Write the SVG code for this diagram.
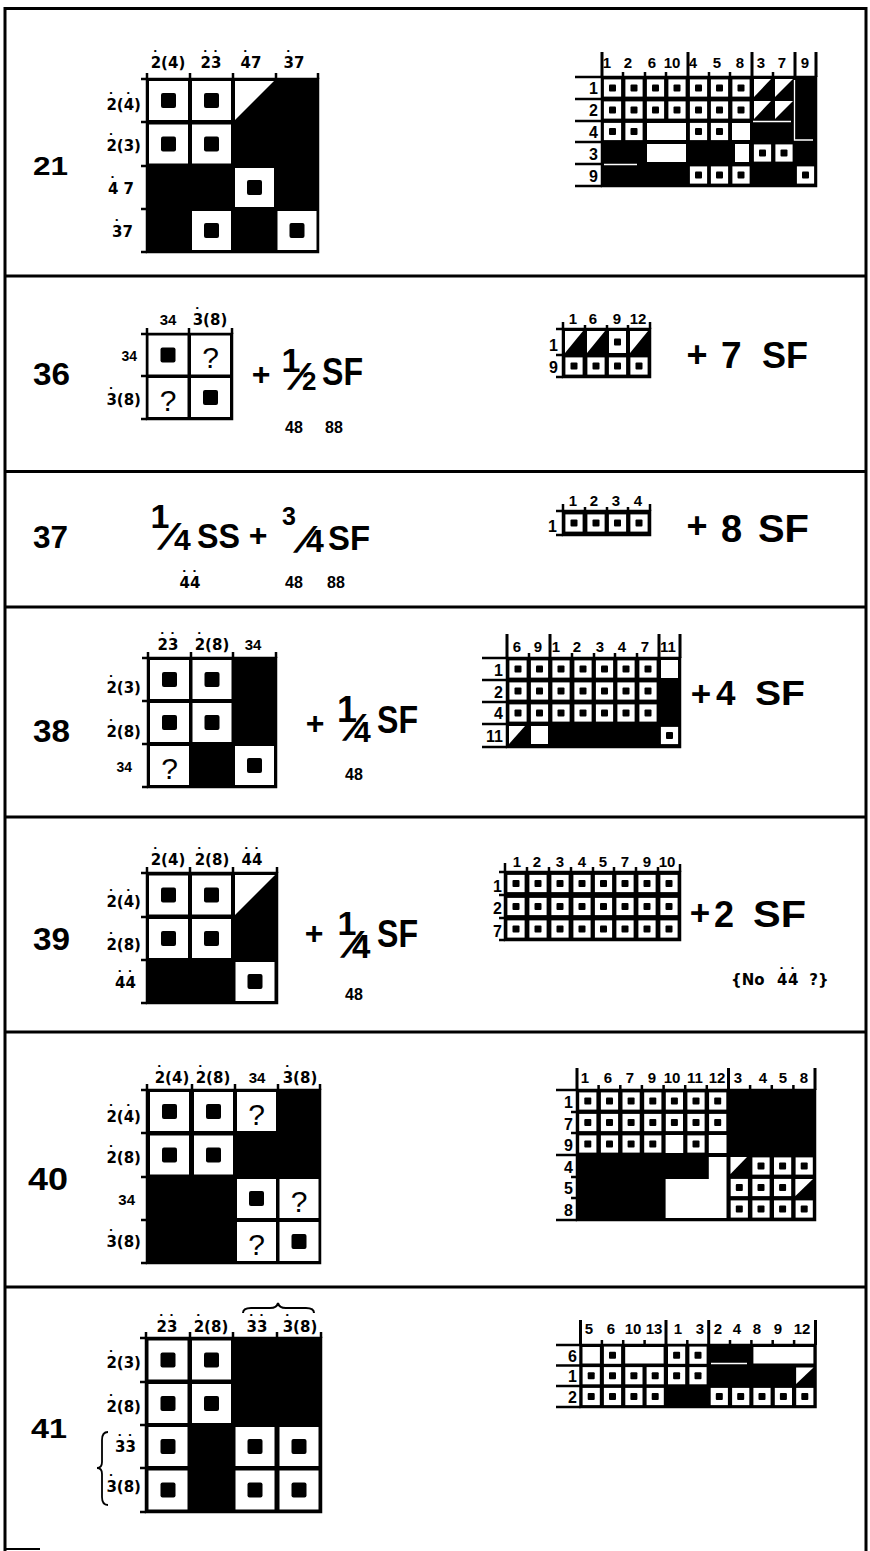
<svg xmlns="http://www.w3.org/2000/svg" width="870" height="1551" viewBox="0 0 870 1551">
<style>
.f{font-family:"Liberation Sans",Arial,Helvetica,sans-serif;font-weight:bold;fill:#000}
.n{font-size:31px}
.l{font-family:"DejaVu Sans",Verdana,sans-serif;font-size:15px}
.r{font-size:15px}
.rl{font-size:16px}
.q{font-family:"Liberation Sans",Arial,sans-serif;font-size:30px;fill:#000;text-anchor:middle}
.m{text-anchor:middle}
.e{text-anchor:end}
.ln{stroke:#000;stroke-width:3;fill:none}
.tk{stroke:#000;stroke-width:2.5;fill:none}
.gl{stroke:#000;stroke-width:3;fill:none}
.ws{stroke:#fff;stroke-width:1.3;fill:none}
.bk{fill:#000}
.wh{fill:#fff}
.bx{fill:#000;stroke:#000;stroke-width:2.5}
</style>
<defs>
<g id="W"><rect x="-19.5" y="-19.5" width="39" height="39" fill="#fff"/><rect x="-7.5" y="-7.5" width="15" height="15" rx="2" fill="#000"/></g>
<rect id="Q" x="-19.5" y="-19.5" width="39" height="39" fill="#fff"/>
<g id="d"><rect x="-8.6" y="-8.6" width="17.2" height="17.2" fill="#fff"/><rect x="-3.5" y="-3.5" width="7" height="7" rx="1" fill="#000"/></g>
</defs>
<rect x="0" y="0" width="870" height="1551" fill="#fff"/>

<g id="frame" class="ln">
<line x1="5" y1="7" x2="5" y2="1551"/>
<line x1="866" y1="7" x2="866" y2="1551"/>
<line x1="4" y1="8.5" x2="867" y2="8.5"/>
<line x1="4" y1="276" x2="867" y2="276"/>
<line x1="4" y1="471.5" x2="867" y2="471.5"/>
<line x1="4" y1="607" x2="867" y2="607"/>
<line x1="4" y1="817" x2="867" y2="817"/>
<line x1="4" y1="1032" x2="867" y2="1032"/>
<line x1="4" y1="1287" x2="867" y2="1287"/>
<line x1="4" y1="1549" x2="40" y2="1549" stroke-width="2"/>
</g>

<!-- ===== 21 ===== -->
<g id="row21">
<text class="f" x="33" y="175" style="font-size:26px" textLength="35" lengthAdjust="spacingAndGlyphs">21</text>
<g id="m21a">
<rect class="bx" x="147" y="79" width="171" height="173"/>
<use href="#W" x="168.5" y="100.5"/><use href="#W" x="211.5" y="100.5"/>
<polygon class="wh" points="235,81 274,81 235,120"/>
<use href="#W" x="168.5" y="144"/><use href="#W" x="211.5" y="144"/>
<use href="#W" x="254.5" y="187.5"/>
<use href="#W" x="211.5" y="230.5"/><use href="#W" x="297" y="230.5"/>
<path class="tk" d="M141 79H147M141 122H147M141 166H147M141 209H147M141 252H147M147 73V79M190 73V79M233 73V79M276 73V79M318 73V79"/>
<text class="f l" y="68"><tspan x="150.7">2</tspan><tspan x="151.5" dy="-5">&#729;</tspan><tspan x="161.1" dy="5">(4)</tspan></text>
<text class="f l" y="68"><tspan x="200.6">2</tspan><tspan x="201.4" dy="-5">&#729;</tspan><tspan x="211" dy="5">3</tspan><tspan x="211.8" dy="-5">&#729;</tspan></text>
<text class="f l" y="68"><tspan x="240.6">4</tspan><tspan x="241.4" dy="-5">&#729;</tspan><tspan x="251" dy="5">7</tspan></text>
<text class="f l" y="68"><tspan x="283.6">3</tspan><tspan x="284.4" dy="-5">&#729;</tspan><tspan x="294" dy="5">7</tspan></text>
<text class="f l" y="110"><tspan x="106.4">2</tspan><tspan x="107.2" dy="-5">&#729;</tspan><tspan x="116.8" dy="5">(4</tspan><tspan x="124.5" dy="-5">&#729;</tspan><tspan x="134.1" dy="5">)</tspan></text>
<text class="f l" y="151"><tspan x="106.4">2</tspan><tspan x="107.2" dy="-5">&#729;</tspan><tspan x="116.8" dy="5">(3)</tspan></text>
<text class="f l" y="194"><tspan x="107.9">4</tspan><tspan x="108.7" dy="-5">&#729;</tspan><tspan x="123.6" dy="5">7</tspan></text>
<text class="f l" y="237"><tspan x="112.1">3</tspan><tspan x="112.9" dy="-5">&#729;</tspan><tspan x="122.5" dy="5">7</tspan></text>
</g>
<g id="m21b">
<rect class="bx" x="602" y="77" width="214" height="109"/>
<use href="#d" x="612.5" y="88"/><use href="#d" x="634" y="88"/><use href="#d" x="655.5" y="88"/><use href="#d" x="677" y="88"/><use href="#d" x="698.5" y="88"/><use href="#d" x="719.5" y="88"/><use href="#d" x="741" y="88"/>
<polygon class="wh" points="754,79 771,79 754,97"/><polygon class="wh" points="775,79 793,79 775,97"/>
<use href="#d" x="612.5" y="110"/><use href="#d" x="634" y="110"/><use href="#d" x="655.5" y="110"/><use href="#d" x="677" y="110"/><use href="#d" x="698.5" y="110"/><use href="#d" x="719.5" y="110"/><use href="#d" x="741" y="110"/>
<polygon class="wh" points="754,101 771,101 754,119"/><polygon class="wh" points="775,101 793,101 775,119"/>
<use href="#d" x="612.5" y="131.5"/><use href="#d" x="634" y="131.5"/>
<rect class="wh" x="647" y="123" width="39" height="17"/>
<use href="#d" x="698.5" y="131.5"/><use href="#d" x="719.5" y="131.5"/>
<rect class="wh" x="732" y="123" width="18" height="17"/>
<rect class="wh" x="647" y="144" width="39" height="18"/>
<rect class="wh" x="735" y="144" width="14" height="18"/>
<use href="#d" x="762.5" y="153"/><use href="#d" x="784" y="153"/>
<use href="#d" x="698.5" y="175"/><use href="#d" x="719.5" y="175"/><use href="#d" x="741" y="175"/><use href="#d" x="805.5" y="175"/>
<path class="ws" d="M604 164.5H637M753 121.5H791M794.5 80V140H813"/>
<path class="tk" d="M575 77H602M575 99H602M575 121H602M575 142H602M575 164H602M575 186H602M623 72V77M645 72V77M666 72V77M709 72V77M730 72V77M773 72V77"/>
<path class="gl" d="M602 52V77M688 52V77M752 52V77M795 52V77M816 52V77"/>
<text class="f r m" x="607" y="68">1</text>
<text class="f r m" x="628" y="68">2</text>
<text class="f r m" x="652" y="68">6</text>
<text class="f r m" x="672" y="68">10</text>
<text class="f r m" x="693" y="68">4</text>
<text class="f r m" x="717" y="68">5</text>
<text class="f r m" x="740" y="68">8</text>
<text class="f r m" x="761" y="68">3</text>
<text class="f r m" x="782" y="68">7</text>
<text class="f r m" x="805" y="68">9</text>
<text class="f rl e" x="598" y="94">1</text>
<text class="f rl e" x="598" y="116">2</text>
<text class="f rl e" x="598" y="138">4</text>
<text class="f rl e" x="598" y="160">3</text>
<text class="f rl e" x="598" y="182">9</text>
</g>
</g>

<!-- ===== 36 ===== -->
<g id="row36">
<text class="f n" x="33" y="385" textLength="37" lengthAdjust="spacingAndGlyphs">36</text>
<g id="m36a">
<rect class="bx" x="147" y="334" width="85" height="85"/>
<use href="#W" x="168" y="355"/>
<use href="#Q" x="210.5" y="355"/><text class="q" x="210.5" y="368">?</text>
<use href="#Q" x="168" y="397.5"/><text class="q" x="168" y="410.5">?</text>
<use href="#W" x="210.5" y="397.5"/>
<path class="tk" d="M141 334H147M141 376H147M141 419H147M147 328V334M189 328V334M232 328V334"/>
<text class="f m" x="168" y="325" style="font-size:15px">34</text>
<text class="f l" y="325"><tspan x="192.7">3</tspan><tspan x="193.5" dy="-5">&#729;</tspan><tspan x="203.1" dy="5">(8)</tspan></text>
<text class="f e" x="137" y="361" style="font-size:14px">34</text>
<text class="f l" y="405"><tspan x="106.4">3</tspan><tspan x="107.2" dy="-5">&#729;</tspan><tspan x="116.8" dy="5">(8)</tspan></text>
</g>
<text class="f m" x="261" y="385" style="font-size:32px">+</text>
<text class="f m" x="291" y="372" style="font-size:34px">1</text>
<text class="f" transform="translate(287,389) skewX(-30)" style="font-size:36px">/</text>
<text class="f" x="302" y="390" style="font-size:26px">2</text>
<text class="f" x="322" y="385" style="font-size:38px" textLength="41" lengthAdjust="spacingAndGlyphs">SF</text>
<text class="f" x="285" y="433" style="font-size:16px">48</text>
<text class="f" x="325" y="433" style="font-size:16px">88</text>
<g id="m36b">
<rect class="bx" x="563" y="329" width="87" height="48"/>
<polygon class="wh" points="565,331 583,331 565,353"/>
<polygon class="wh" points="587,331 605,331 587,353"/>
<rect class="wh" x="609" y="331" width="17" height="22"/><rect class="bk" x="614" y="338.5" width="7" height="7" rx="1"/>
<polygon class="wh" points="630,331 648,331 630,353"/>
<use href="#d" x="574" y="366"/><use href="#d" x="596" y="366"/><use href="#d" x="617.5" y="366"/><use href="#d" x="639" y="366"/>
<path class="tk" d="M563 322V329M585 325V329M607 325V329M628 325V329M650 322V329M556 329H563M556 355H563M556 377H563"/>
<text class="f r m" x="573" y="324">1</text>
<text class="f r m" x="593" y="324">6</text>
<text class="f r m" x="617" y="324">9</text>
<text class="f r m" x="638" y="324">12</text>
<text class="f rl e" x="558" y="351">1</text>
<text class="f rl e" x="558" y="373">9</text>
</g>
<text class="f m" x="697" y="367" style="font-size:36px">+</text>
<text class="f" x="721" y="368" style="font-size:37px">7</text>
<text class="f" x="762" y="368" style="font-size:37px" textLength="46" lengthAdjust="spacingAndGlyphs">SF</text>
</g>

<!-- ===== 37 ===== -->
<g id="row37">
<text class="f n" x="33" y="548" textLength="35" lengthAdjust="spacingAndGlyphs">37</text>
<text class="f m" x="160" y="528" style="font-size:34px">1</text>
<text class="f" transform="translate(157,549) skewX(-30)" style="font-size:36px">/</text>
<text class="f" x="174" y="550" style="font-size:30px">4</text>
<text class="f" x="197" y="548" style="font-size:35px" textLength="43" lengthAdjust="spacingAndGlyphs">SS</text>
<text class="f m" x="258" y="546" style="font-size:32px">+</text>
<text class="f" x="282" y="525" style="font-size:25px">3</text>
<text class="f" transform="translate(293,552) skewX(-30)" style="font-size:36px">/</text>
<text class="f" x="306" y="552" style="font-size:32px">4</text>
<text class="f" x="328" y="550" style="font-size:35px" textLength="42" lengthAdjust="spacingAndGlyphs">SF</text>
<text class="f l" y="588"><tspan x="179.6">4</tspan><tspan x="180.4" dy="-5">&#729;</tspan><tspan x="190" dy="5">4</tspan><tspan x="190.8" dy="-5">&#729;</tspan></text>
<text class="f" x="285" y="588" style="font-size:16px">48</text>
<text class="f" x="327" y="588" style="font-size:16px">88</text>
<g id="m37b">
<rect class="bx" x="563" y="511" width="87" height="24"/>
<use href="#d" x="574" y="523"/><use href="#d" x="596" y="523"/><use href="#d" x="617.5" y="523"/><use href="#d" x="639" y="523"/>
<path class="tk" d="M563 504V511M585 507V511M607 507V511M628 507V511M650 504V511M556 511H563M556 535H563"/>
<text class="f r m" x="573" y="506">1</text>
<text class="f r m" x="594" y="506">2</text>
<text class="f r m" x="616" y="506">3</text>
<text class="f r m" x="638" y="506">4</text>
<text class="f rl e" x="557" y="532">1</text>
</g>
<text class="f m" x="697" y="538" style="font-size:36px">+</text>
<text class="f" x="721" y="542" style="font-size:38px">8</text>
<text class="f" x="758" y="542" style="font-size:38px" textLength="51" lengthAdjust="spacingAndGlyphs">SF</text>
</g>

<!-- ===== 38 ===== -->
<g id="row38">
<text class="f n" x="33" y="742" textLength="37" lengthAdjust="spacingAndGlyphs">38</text>
<g id="m38a">
<rect class="bx" x="148" y="658" width="128" height="129"/>
<use href="#W" x="169.5" y="679.5"/><use href="#W" x="212" y="679.5"/>
<use href="#W" x="169.5" y="722.5"/><use href="#W" x="212" y="722.5"/>
<use href="#Q" x="169.5" y="765.5"/><text class="q" x="169.5" y="778.5">?</text>
<use href="#W" x="254.5" y="765.5"/>
<path class="tk" d="M142 658H148M142 701H148M142 744H148M142 787H148M148 652V658M191 652V658M233 652V658M276 652V658"/>
<text class="f l" y="650"><tspan x="157.6">2</tspan><tspan x="158.4" dy="-5">&#729;</tspan><tspan x="168" dy="5">3</tspan><tspan x="168.8" dy="-5">&#729;</tspan></text>
<text class="f l" y="650"><tspan x="194.7">2</tspan><tspan x="195.5" dy="-5">&#729;</tspan><tspan x="205.1" dy="5">(8)</tspan></text>
<text class="f m" x="253" y="650" style="font-size:15px">34</text>
<text class="f l" y="693"><tspan x="106.4">2</tspan><tspan x="107.2" dy="-5">&#729;</tspan><tspan x="116.8" dy="5">(3)</tspan></text>
<text class="f l" y="737"><tspan x="106.4">2</tspan><tspan x="107.2" dy="-5">&#729;</tspan><tspan x="116.8" dy="5">(8)</tspan></text>
<text class="f e" x="132" y="772" style="font-size:14px">34</text>
</g>
<text class="f m" x="315" y="734" style="font-size:32px">+</text>
<text class="f m" x="347" y="722" style="font-size:36px">1</text>
<text class="f" transform="translate(342,740) skewX(-30)" style="font-size:36px">/</text>
<text class="f" x="354" y="742" style="font-size:30px">4</text>
<text class="f" x="377" y="733" style="font-size:38px" textLength="41" lengthAdjust="spacingAndGlyphs">SF</text>
<text class="f" x="345" y="780" style="font-size:16px">48</text>
<g id="m38b">
<rect class="bx" x="507" y="658" width="173" height="89"/>
<use href="#d" x="518" y="669"/><use href="#d" x="539.5" y="669"/><use href="#d" x="561" y="669"/><use href="#d" x="583" y="669"/><use href="#d" x="604.5" y="669"/><use href="#d" x="626" y="669"/><use href="#d" x="648" y="669"/>
<rect class="wh" x="661" y="660" width="17" height="18"/>
<use href="#d" x="518" y="691"/><use href="#d" x="539.5" y="691"/><use href="#d" x="561" y="691"/><use href="#d" x="583" y="691"/><use href="#d" x="604.5" y="691"/><use href="#d" x="626" y="691"/><use href="#d" x="648" y="691"/>
<use href="#d" x="518" y="713"/><use href="#d" x="539.5" y="713"/><use href="#d" x="561" y="713"/><use href="#d" x="583" y="713"/><use href="#d" x="604.5" y="713"/><use href="#d" x="626" y="713"/><use href="#d" x="648" y="713"/>
<polygon class="wh" points="509,726 525,726 509,744"/>
<rect class="wh" x="531" y="726" width="17" height="18"/>
<use href="#d" x="669.5" y="735.5"/>
<path class="gl" d="M507 634V658M550 634V658M659 634V658M680 634V658"/>
<path class="tk" d="M529 653V658M572 653V658M594 653V658M615 653V658M637 653V658M482 658H507M482 680H507M482 702H507M482 724H507M482 747H507"/>
<text class="f r m" x="517" y="652">6</text>
<text class="f r m" x="538" y="652">9</text>
<text class="f r m" x="556" y="652">1</text>
<text class="f r m" x="577" y="652">2</text>
<text class="f r m" x="600" y="652">3</text>
<text class="f r m" x="622" y="652">4</text>
<text class="f r m" x="645" y="652">7</text>
<text class="f r m" x="668" y="652">11</text>
<text class="f rl e" x="503" y="676">1</text>
<text class="f rl e" x="503" y="698">2</text>
<text class="f rl e" x="503" y="719">4</text>
<text class="f rl e" x="503" y="742">11</text>
</g>
<text class="f m" x="701" y="706" style="font-size:35px">+</text>
<text class="f" x="716" y="705" style="font-size:35px">4</text>
<text class="f" x="755" y="705" style="font-size:35px" textLength="50" lengthAdjust="spacingAndGlyphs">SF</text>
</g>

<!-- ===== 39 ===== -->
<g id="row39">
<text class="f n" x="33" y="950" textLength="37" lengthAdjust="spacingAndGlyphs">39</text>
<g id="m39a">
<rect class="bx" x="147" y="873" width="130" height="130"/>
<use href="#W" x="168.5" y="895"/><use href="#W" x="211.5" y="895"/>
<polygon class="wh" points="235,875 275,875 235,915"/>
<use href="#W" x="168.5" y="938.5"/><use href="#W" x="211.5" y="938.5"/>
<use href="#W" x="255" y="981.5"/>
<path class="tk" d="M141 873H147M141 917H147M141 960H147M141 1003H147M147 867V873M190 867V873M233 867V873M277 867V873"/>
<text class="f l" y="865"><tspan x="150.7">2</tspan><tspan x="151.5" dy="-5">&#729;</tspan><tspan x="161.1" dy="5">(4)</tspan></text>
<text class="f l" y="865"><tspan x="194.7">2</tspan><tspan x="195.5" dy="-5">&#729;</tspan><tspan x="205.1" dy="5">(8)</tspan></text>
<text class="f l" y="865"><tspan x="241.6">4</tspan><tspan x="242.4" dy="-5">&#729;</tspan><tspan x="252" dy="5">4</tspan><tspan x="252.8" dy="-5">&#729;</tspan></text>
<text class="f l" y="907"><tspan x="106.4">2</tspan><tspan x="107.2" dy="-5">&#729;</tspan><tspan x="116.8" dy="5">(4</tspan><tspan x="124.5" dy="-5">&#729;</tspan><tspan x="134.1" dy="5">)</tspan></text>
<text class="f l" y="950"><tspan x="106.4">2</tspan><tspan x="107.2" dy="-5">&#729;</tspan><tspan x="116.8" dy="5">(8)</tspan></text>
<text class="f l" y="988"><tspan x="115.1">4</tspan><tspan x="115.9" dy="-5">&#729;</tspan><tspan x="125.5" dy="5">4</tspan><tspan x="126.3" dy="-5">&#729;</tspan></text>
</g>
<text class="f m" x="314" y="944" style="font-size:32px">+</text>
<text class="f m" x="347" y="935" style="font-size:34px">1</text>
<text class="f" transform="translate(340,957) skewX(-30)" style="font-size:36px">/</text>
<text class="f" x="352" y="958" style="font-size:33px">4</text>
<text class="f" x="377" y="947" style="font-size:38px" textLength="41" lengthAdjust="spacingAndGlyphs">SF</text>
<text class="f" x="345" y="1000" style="font-size:16px">48</text>
<g id="m39b">
<rect class="bx" x="505" y="872" width="175" height="68"/>
<use href="#d" x="516" y="883.5"/><use href="#d" x="538" y="883.5"/><use href="#d" x="560" y="883.5"/><use href="#d" x="582" y="883.5"/><use href="#d" x="603.5" y="883.5"/><use href="#d" x="625" y="883.5"/><use href="#d" x="647" y="883.5"/><use href="#d" x="669" y="883.5"/>
<use href="#d" x="516" y="906.5"/><use href="#d" x="538" y="906.5"/><use href="#d" x="560" y="906.5"/><use href="#d" x="582" y="906.5"/><use href="#d" x="603.5" y="906.5"/><use href="#d" x="625" y="906.5"/><use href="#d" x="647" y="906.5"/><use href="#d" x="669" y="906.5"/>
<use href="#d" x="516" y="929"/><use href="#d" x="538" y="929"/><use href="#d" x="560" y="929"/><use href="#d" x="582" y="929"/><use href="#d" x="603.5" y="929"/><use href="#d" x="625" y="929"/><use href="#d" x="647" y="929"/><use href="#d" x="669" y="929"/>
<path class="tk" d="M505 863V872M527 867V872M549 867V872M571 867V872M593 867V872M614 867V872M636 867V872M658 867V872M680 864V872M499 872H505M499 895H505M499 918H505M499 940H505"/>
<text class="f r m" x="517" y="867">1</text>
<text class="f r m" x="537" y="867">2</text>
<text class="f r m" x="560" y="867">3</text>
<text class="f r m" x="582" y="867">4</text>
<text class="f r m" x="603" y="867">5</text>
<text class="f r m" x="625" y="867">7</text>
<text class="f r m" x="647" y="867">9</text>
<text class="f r m" x="667" y="867">10</text>
<text class="f rl e" x="502" y="892">1</text>
<text class="f rl e" x="502" y="914">2</text>
<text class="f rl e" x="502" y="937">7</text>
</g>
<text class="f m" x="700" y="925" style="font-size:35px">+</text>
<text class="f" x="714" y="927" style="font-size:36px">2</text>
<text class="f" x="753" y="927" style="font-size:36px" textLength="53" lengthAdjust="spacingAndGlyphs">SF</text>
<text class="f l" y="985"><tspan x="731">{No </tspan><tspan x="777">4</tspan><tspan x="777.8" dy="-5">&#729;</tspan><tspan x="788" dy="5">4</tspan><tspan x="788.8" dy="-5">&#729;</tspan><tspan x="804" dy="5"> ?}</tspan></text>
</g>

<!-- ===== 40 ===== -->
<g id="row40">
<text class="f n" x="28" y="1190" textLength="40" lengthAdjust="spacingAndGlyphs">40</text>
<g id="m40a">
<rect class="bx" x="147" y="1090" width="173" height="173"/>
<use href="#W" x="169.5" y="1111.5"/><use href="#W" x="213.5" y="1111.5"/>
<use href="#Q" x="256.5" y="1111.5"/><text class="q" x="256.5" y="1124.5">?</text>
<use href="#W" x="169.5" y="1155"/><use href="#W" x="213.5" y="1155"/>
<use href="#W" x="256.5" y="1198.5"/>
<use href="#Q" x="299" y="1198.5"/><text class="q" x="299" y="1211.5">?</text>
<use href="#Q" x="256.5" y="1241.5"/><text class="q" x="256.5" y="1254.5">?</text>
<use href="#W" x="299" y="1241.5"/>
<path class="tk" d="M141 1090H147M141 1133H147M141 1177H147M141 1220H147M141 1263H147M147 1084V1090M192 1084V1090M235 1084V1090M278 1084V1090M320 1084V1090"/>
<text class="f l" y="1083"><tspan x="154.7">2</tspan><tspan x="155.5" dy="-5">&#729;</tspan><tspan x="165.1" dy="5">(4)</tspan></text>
<text class="f l" y="1083"><tspan x="195.7">2</tspan><tspan x="196.5" dy="-5">&#729;</tspan><tspan x="206.1" dy="5">(8)</tspan></text>
<text class="f m" x="257" y="1083" style="font-size:15px">34</text>
<text class="f l" y="1083"><tspan x="282.7">3</tspan><tspan x="283.5" dy="-5">&#729;</tspan><tspan x="293.1" dy="5">(8)</tspan></text>
<text class="f l" y="1122"><tspan x="106.4">2</tspan><tspan x="107.2" dy="-5">&#729;</tspan><tspan x="116.8" dy="5">(4</tspan><tspan x="124.5" dy="-5">&#729;</tspan><tspan x="134.1" dy="5">)</tspan></text>
<text class="f l" y="1163"><tspan x="106.4">2</tspan><tspan x="107.2" dy="-5">&#729;</tspan><tspan x="116.8" dy="5">(8)</tspan></text>
<text class="f e" x="135" y="1205" style="font-size:15px">34</text>
<text class="f l" y="1247"><tspan x="106.4">3</tspan><tspan x="107.2" dy="-5">&#729;</tspan><tspan x="116.8" dy="5">(8)</tspan></text>
</g>
<g id="m40b">
<rect class="bx" x="577" y="1090" width="238" height="130"/>
<use href="#d" x="587.8" y="1101"/><use href="#d" x="609.5" y="1101"/><use href="#d" x="631.1" y="1101"/><use href="#d" x="652.8" y="1101"/><use href="#d" x="674.4" y="1101"/><use href="#d" x="696" y="1101"/><use href="#d" x="717.7" y="1101"/>
<use href="#d" x="587.8" y="1122.5"/><use href="#d" x="609.5" y="1122.5"/><use href="#d" x="631.1" y="1122.5"/><use href="#d" x="652.8" y="1122.5"/><use href="#d" x="674.4" y="1122.5"/><use href="#d" x="696" y="1122.5"/><use href="#d" x="717.7" y="1122.5"/>
<use href="#d" x="587.8" y="1144"/><use href="#d" x="609.5" y="1144"/><use href="#d" x="631.1" y="1144"/><use href="#d" x="652.8" y="1144"/>
<rect class="wh" x="665.6" y="1135" width="17.6" height="18"/>
<use href="#d" x="696" y="1144"/>
<rect class="wh" x="708.8" y="1135" width="17.7" height="18"/>
<polygon class="wh" points="708.8,1157 726.5,1157 726.5,1218 665.6,1218 665.6,1179 708.8,1179"/>
<polygon class="wh" points="730.5,1157 747,1157 730.5,1174"/>
<use href="#d" x="761" y="1166"/><use href="#d" x="782.6" y="1166"/><use href="#d" x="804.2" y="1166"/>
<use href="#d" x="739.3" y="1187.5"/><use href="#d" x="761" y="1187.5"/><use href="#d" x="782.6" y="1187.5"/>
<polygon class="wh" points="795.4,1179 813,1179 795.4,1196"/>
<use href="#d" x="739.3" y="1209"/><use href="#d" x="761" y="1209"/><use href="#d" x="782.6" y="1209"/><use href="#d" x="804.2" y="1209"/>
<path class="gl" d="M577 1068V1090M728.5 1068V1090M815 1068V1090"/>
<path class="tk" d="M598.6 1085V1090M620.3 1085V1090M641.9 1085V1090M663.6 1085V1090M685.2 1085V1090M706.8 1085V1090M750.1 1085V1090M771.8 1085V1090M793.4 1085V1090M556 1090H577M556 1155H577M556 1220H577M571 1112H577M571 1133H577M571 1177H577M571 1198H577"/>
<text class="f r m" x="585" y="1083">1</text>
<text class="f r m" x="608" y="1083">6</text>
<text class="f r m" x="630" y="1083">7</text>
<text class="f r m" x="652" y="1083">9</text>
<text class="f r m" x="672" y="1083">10</text>
<text class="f r m" x="695" y="1083">11</text>
<text class="f r m" x="717" y="1083">12</text>
<text class="f r m" x="738" y="1083">3</text>
<text class="f r m" x="763" y="1083">4</text>
<text class="f r m" x="783" y="1083">5</text>
<text class="f r m" x="804" y="1083">8</text>
<text class="f rl e" x="573" y="1108">1</text>
<text class="f rl e" x="573" y="1130">7</text>
<text class="f rl e" x="573" y="1151">9</text>
<text class="f rl e" x="573" y="1173">4</text>
<text class="f rl e" x="573" y="1194">5</text>
<text class="f rl e" x="573" y="1216">8</text>
</g>
</g>

<!-- ===== 41 ===== -->
<g id="row41">
<text class="f" x="31" y="1438" style="font-size:28px" textLength="36" lengthAdjust="spacingAndGlyphs">41</text>
<g id="m41a">
<rect class="bx" x="146" y="1338" width="175" height="174"/>
<use href="#W" x="168" y="1360"/><use href="#W" x="211.5" y="1360"/>
<use href="#W" x="168" y="1403.5"/><use href="#W" x="211.5" y="1403.5"/>
<use href="#W" x="168" y="1446.5"/><use href="#W" x="255" y="1446.5"/><use href="#W" x="299" y="1446.5"/>
<use href="#W" x="168" y="1490"/><use href="#W" x="255" y="1490"/><use href="#W" x="299" y="1490"/>
<path class="tk" d="M140 1338H146M140 1382H146M140 1425H146M140 1468H146M140 1512H146M146 1332V1338M190 1332V1338M233 1332V1338M277 1332V1338M321 1332V1338"/>
<path stroke="#000" stroke-width="2" fill="none" d="M243 1313Q243 1308 251 1308H270Q277 1308 278 1303Q279 1308 286 1308H306Q314 1308 314 1313"/>
<text class="f l" y="1332"><tspan x="156.6">2</tspan><tspan x="157.4" dy="-5">&#729;</tspan><tspan x="167" dy="5">3</tspan><tspan x="167.8" dy="-5">&#729;</tspan></text>
<text class="f l" y="1332"><tspan x="193.7">2</tspan><tspan x="194.5" dy="-5">&#729;</tspan><tspan x="204.1" dy="5">(8)</tspan></text>
<text class="f l" y="1332"><tspan x="246.6">3</tspan><tspan x="247.4" dy="-5">&#729;</tspan><tspan x="257" dy="5">3</tspan><tspan x="257.8" dy="-5">&#729;</tspan></text>
<text class="f l" y="1332"><tspan x="282.7">3</tspan><tspan x="283.5" dy="-5">&#729;</tspan><tspan x="293.1" dy="5">(8)</tspan></text>
<text class="f l" y="1368"><tspan x="106.4">2</tspan><tspan x="107.2" dy="-5">&#729;</tspan><tspan x="116.8" dy="5">(3)</tspan></text>
<text class="f l" y="1412"><tspan x="106.4">2</tspan><tspan x="107.2" dy="-5">&#729;</tspan><tspan x="116.8" dy="5">(8)</tspan></text>
<text class="f l" y="1452"><tspan x="115.1">3</tspan><tspan x="115.9" dy="-5">&#729;</tspan><tspan x="125.5" dy="5">3</tspan><tspan x="126.3" dy="-5">&#729;</tspan></text>
<text class="f l" y="1492"><tspan x="106.4">3</tspan><tspan x="107.2" dy="-5">&#729;</tspan><tspan x="116.8" dy="5">(8)</tspan></text>
<path stroke="#000" stroke-width="1.8" fill="none" d="M108 1432Q102 1432 102 1440V1462Q102 1468 97 1468Q102 1468 102 1474V1497Q102 1505 108 1505"/>
</g>
<g id="m41b">
<rect class="bx" x="580.5" y="1345" width="235" height="62"/>
<rect class="wh" x="582.5" y="1347" width="17.4" height="16.5"/>
<use href="#d" x="612.5" y="1355.2"/>
<rect class="wh" x="625.2" y="1347" width="38.4" height="16.5"/>
<use href="#d" x="676.6" y="1355.2"/><use href="#d" x="698" y="1355.2"/>
<rect class="wh" x="753.4" y="1347" width="60" height="16.5"/>
<path class="ws" d="M711 1363.5H747"/>
<use href="#d" x="591.2" y="1375.7"/><use href="#d" x="612.5" y="1375.7"/><use href="#d" x="633.9" y="1375.7"/><use href="#d" x="655.2" y="1375.7"/><use href="#d" x="676.6" y="1375.7"/><use href="#d" x="698" y="1375.7"/>
<polygon class="wh" points="796.1,1367.5 813.5,1367.5 796.1,1384"/>
<use href="#d" x="591.2" y="1396.5"/><use href="#d" x="612.5" y="1396.5"/><use href="#d" x="633.9" y="1396.5"/><use href="#d" x="655.2" y="1396.5"/>
<use href="#d" x="719.3" y="1396.5"/><use href="#d" x="740.7" y="1396.5"/><use href="#d" x="762" y="1396.5"/><use href="#d" x="783.4" y="1396.5"/><use href="#d" x="804.8" y="1396.5"/>
<path class="gl" d="M580.5 1320V1345M666 1320V1345M708.7 1320V1345M815.5 1320V1345"/>
<path class="tk" d="M601.9 1340V1345M623.2 1340V1345M644.6 1340V1345M687.3 1340V1345M730 1340V1345M751.4 1340V1345M772.7 1340V1345M794.1 1340V1345M556 1345H580.5M556 1365.5H580.5M556 1386H580.5M556 1407H580.5"/>
<text class="f r m" x="589" y="1334">5</text>
<text class="f r m" x="611" y="1334">6</text>
<text class="f r m" x="633" y="1334">10</text>
<text class="f r m" x="654" y="1334">13</text>
<text class="f r m" x="678" y="1334">1</text>
<text class="f r m" x="700" y="1334">3</text>
<text class="f r m" x="718" y="1334">2</text>
<text class="f r m" x="737" y="1334">4</text>
<text class="f r m" x="757" y="1334">8</text>
<text class="f r m" x="778" y="1334">9</text>
<text class="f r m" x="802" y="1334">12</text>
<text class="f rl e" x="577" y="1362">6</text>
<text class="f rl e" x="577" y="1382">1</text>
<text class="f rl e" x="577" y="1403">2</text>
</g>
</g>
</svg>
